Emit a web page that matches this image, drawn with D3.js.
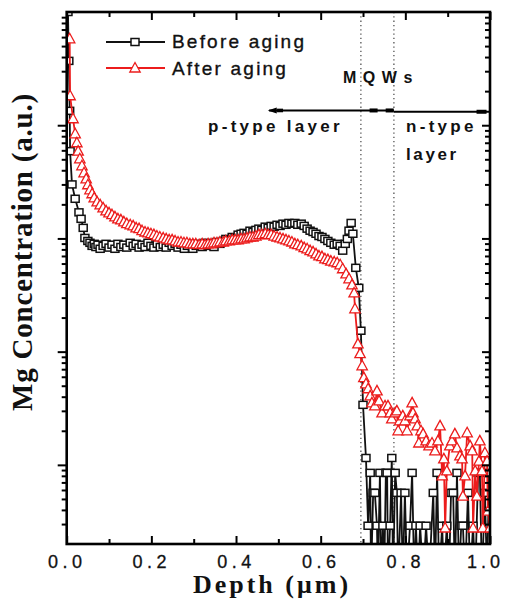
<!DOCTYPE html>
<html><head><meta charset="utf-8">
<script src="https://cdn.jsdelivr.net/npm/d3@7"></script>
<style>body{margin:0;background:#fff}</style>
</head><body>
<svg id="chart" width="505" height="599" xmlns="http://www.w3.org/2000/svg"></svg>
<script>
// ---------- data ----------
const seriesNames = ["Before aging", "After aging"];
const blackDepth = [0.003,0.005,0.007,0.008,0.0125,0.020,0.029,0.034,0.039,0.043,0.050,0.055,0.060,0.065,0.069,0.074,0.079,0.086,0.093,0.100,0.107,0.114,0.121,0.128,0.135,0.142,0.150,0.157,0.164,0.171,0.178,0.185,0.192,0.199,0.206,0.214,0.221,0.228,0.235,0.242,0.249,0.256,0.263,0.270,0.278,0.285,0.291,0.298,0.306,0.313,0.320,0.327,0.334,0.341,0.348,0.355,0.362,0.370,0.376,0.384,0.391,0.398,0.405,0.412,0.419,0.426,0.433,0.440,0.447,0.454,0.461,0.469,0.476,0.483,0.490,0.497,0.504,0.511,0.518,0.525,0.532,0.539,0.546,0.554,0.561,0.568,0.575,0.582,0.589,0.596,0.603,0.610,0.617,0.624,0.632,0.639,0.646,0.652,0.658,0.663,0.667,0.672,0.676,0.683,0.690,0.695,0.700,0.707,
  0.712,0.717,0.719,0.724,0.728,0.733,0.735,0.740,0.743,0.747,0.750,0.754,0.757,0.759,0.764,0.768,0.771,0.776,0.780,0.783,0.790,0.794,0.799,0.804,0.811,0.816,0.821,0.825,0.830,0.835,0.842,0.849,0.856,0.866,0.870,0.875,0.880,0.887,0.891,0.898,0.903,0.908,0.913,0.917,0.922,0.927,0.932,0.936,0.941,0.948,0.953,0.960,0.965,0.972,0.976,0.981,0.988,0.993,0.998];
const blackConc = [1e20,3.7e19,1.34e19,5.9e18,3.0e18,2.24e18,1.7e18,1.49e18,1.24e18,1.01e18,9.5e17,9.15e17,8.6e17,8.96e17,8.4e17,8.8e17,8.1e17,8.6e17,8.96e17,8.3e17,8.8e17,8.1e17,8.96e17,8.4e17,8.8e17,8.3e17,9.15e17,8.6e17,8.96e17,8.3e17,8.8e17,8.4e17,9.15e17,8.6e17,8.3e17,8.96e17,8.4e17,8.8e17,8.3e17,9.15e17,8.6e17,8.96e17,8.3e17,8.8e17,8.1e17,8.6e17,8.96e17,8.1e17,8.6e17,8.96e17,8.4e17,9.15e17,8.6e17,8.96e17,8.4e17,9.3e17,8.96e17,9.5e17,9.9e17,9.7e17,1.03e18,1.01e18,1.08e18,1.10e18,1.12e18,1.10e18,1.17e18,1.14e18,1.19e18,1.22e18,1.19e18,1.27e18,1.24e18,1.29e18,1.27e18,1.32e18,1.29e18,1.35e18,1.32e18,1.37e18,1.35e18,1.37e18,1.32e18,1.35e18,1.29e18,1.22e18,1.17e18,1.14e18,1.10e18,1.05e18,1.03e18,9.9e17,9.5e17,9.15e17,8.8e17,8.96e17,8.6e17,7.8e17,8.96e17,9.9e17,1.17e18,1.37e18,1.10e18,5.5e17,3.66e17,1.53e17,3.39e16,1.15e16,
  2.9e15,8.5e15,1e15,5.66e15,5.66e15,2.9e15,1e15,8.5e15,1e15,2.9e15,1e15,8.5e15,8.5e15,1e15,2.9e15,1.15e16,1e15,8.5e15,5.66e15,1e15,5.66e15,1e15,5.66e15,1e15,2.9e15,8.5e15,1e15,2.9e15,1e15,2.9e15,1e15,2.9e15,1e15,5.66e15,1e15,8.5e15,1e15,2.9e15,1e15,2.9e15,1e15,5.66e15,5.66e15,1e15,8.5e15,1e15,2.9e15,2.9e15,1e15,5.66e15,1e15,2.9e15,1e15,8.5e15,8.5e15,1e15,5.66e15,1e15,8.5e15];
const redDepth = [0.007,0.008,0.015,0.020,0.024,0.027,0.031,0.036,0.041,0.046,0.050,0.055,0.060,0.065,0.072,0.079,0.086,0.093,0.100,0.107,0.114,0.121,0.128,0.135,0.142,0.150,0.157,0.164,0.171,0.178,0.185,0.192,0.199,0.206,0.213,0.220,0.228,0.235,0.242,0.249,0.256,0.263,0.270,0.277,0.284,0.291,0.298,0.305,0.313,0.320,0.327,0.334,0.341,0.348,0.355,0.362,0.370,0.376,0.384,0.391,0.398,0.405,0.412,0.419,0.426,0.433,0.440,0.447,0.454,0.461,0.469,0.476,0.483,0.490,0.497,0.504,0.511,0.518,0.525,0.532,0.539,0.546,0.554,0.561,0.568,0.575,0.582,0.589,0.596,0.603,0.610,0.617,0.624,0.632,0.639,0.646,0.652,0.660,0.667,0.674,0.679,
  0.681,0.688,0.693,0.698,0.702,0.707,0.712,0.717,0.721,0.728,0.733,0.738,0.745,0.752,0.759,0.764,0.768,0.776,0.780,0.783,0.787,0.794,0.799,0.804,0.811,0.816,0.818,0.823,0.828,0.832,0.837,0.842,0.849,0.856,0.863,0.870,0.877,0.882,0.887,0.891,0.894,0.898,0.905,0.910,0.917,0.922,0.929,0.934,0.936,0.941,0.946,0.953,0.958,0.960,0.965,0.969,0.974,0.976,0.981,0.983,0.988,0.993,0.995,1.0];
const redConc = [5.8e19,1.82e19,1.14e19,8.4e18,7.0e18,5.9e18,5.05e18,4.38e18,3.8e18,3.36e18,2.98e18,2.69e18,2.48e18,2.28e18,2.1e18,1.98e18,1.86e18,1.75e18,1.68e18,1.62e18,1.55e18,1.49e18,1.46e18,1.40e18,1.35e18,1.32e18,1.29e18,1.24e18,1.22e18,1.17e18,1.14e18,1.12e18,1.10e18,1.08e18,1.05e18,1.03e18,1.01e18,9.9e17,9.7e17,9.7e17,9.5e17,9.3e17,9.3e17,9.15e17,9.15e17,8.96e17,8.96e17,8.96e17,8.8e17,8.96e17,8.8e17,8.96e17,8.96e17,9.15e17,9.15e17,9.3e17,9.3e17,9.5e17,9.5e17,9.7e17,9.7e17,9.7e17,9.9e17,9.9e17,1.01e18,1.03e18,1.03e18,1.05e18,1.08e18,1.08e18,1.10e18,1.08e18,1.08e18,1.05e18,1.03e18,1.01e18,9.9e17,9.7e17,9.5e17,9.3e17,8.96e17,8.8e17,8.6e17,8.3e17,8.1e17,7.8e17,7.6e17,7.3e17,7.0e17,6.9e17,6.6e17,6.5e17,6.3e17,6.2e17,6.1e17,5.85e17,5.4e17,4.86e17,4.4e17,3.89e17,3.3e17,
  2.39e17,1.17e17,9.6e16,7.5e16,5.9e16,5.2e16,4.7e16,4.07e16,3.53e16,3.32e16,4.5e16,3.67e16,2.88e16,3.32e16,3.32e16,2.88e16,2.55e16,2.88e16,3.0e16,2.0e16,2.45e16,2.71e16,2.45e16,2.0e16,2.71e16,3.53e16,2.88e16,2.55e16,2.21e16,1.56e16,2.0e16,1.88e16,1.63e16,1.47e16,1.56e16,1.33e16,1.63e16,2.21e16,8.0e15,1.13e16,2.77e15,8.85e15,1.47e16,1.63e16,1.88e16,1.41e16,1.2e16,1.13e16,5.3e15,8.0e15,1.92e16,1.47e16,1.33e16,2.77e15,8.85e15,5.3e15,1.08e16,1.63e16,8.85e15,2.77e15,1.28e16,1.08e16,3.9e15,2.77e15];

const xTicks = [0, 0.2, 0.4, 0.6, 0.8, 1.0];
const xTickLabels = ["0.0", "0.2", "0.4", "0.6", "0.8", "1.0"];
const xMinorTicks = [0.1, 0.3, 0.5, 0.7, 0.9];
const yDomain = [2e15, 1e20];
const mqwBounds = [0.695, 0.773];
const regionLabels = ["MQWs", "p-type layer", "n-type", "layer"];
const xTitle = "Depth (\u03bcm)";
const yTitle = "Mg Concentration (a.u.)";

// ---------- chart ----------
const svg = d3.select("#chart");
const L = 66.7, R = 490, T = 12, B = 544;
const x = d3.scaleLinear().domain([0, 1]).range([L, R]);
const y = d3.scaleLog().domain(yDomain).range([B, T]);

const yMajor = [1e16, 1e17, 1e18, 1e19];
const yMinor = [];
for (let d = 15; d <= 19; d++) for (let m = 2; m <= 9; m++) {
  const v = m * Math.pow(10, d);
  if (v > yDomain[0] && v < yDomain[1]) yMinor.push(v);
}

const SANS = "'Liberation Sans', Arial, Helvetica, sans-serif";
const SERIF = "'Liberation Serif', 'Times New Roman', serif";

function styleAxis(g) {
  g.select(".domain").remove();
  g.selectAll(".tick line").attr("stroke", "#000").attr("stroke-width", 2);
}

// clip
svg.append("defs").append("clipPath").attr("id", "clip")
  .append("rect").attr("x", L).attr("y", T).attr("width", R - L).attr("height", B - T);

// dotted MQW boundaries
svg.append("g").selectAll("line").data(mqwBounds).join("line")
  .attr("x1", d => x(d)).attr("x2", d => x(d)).attr("y1", T).attr("y2", B)
  .attr("stroke", "#444").attr("stroke-width", 1.2).attr("stroke-dasharray", "1.3,3");

// series
const black = blackDepth.map((d, i) => ({ depth: d, conc: blackConc[i] }));
const red = redDepth.map((d, i) => ({ depth: d, conc: redConc[i] }));
const line = d3.line().x(d => x(d.depth)).y(d => y(d.conc));
const plot = svg.append("g").attr("clip-path", "url(#clip)");

const BLACK = "#111", RED = "#ec1c1c";
const sq = (sel) => sel.append("rect").attr("x", -4).attr("y", -3.5).attr("width", 8).attr("height", 7)
  .attr("fill", "#fff").attr("stroke", BLACK).attr("stroke-width", 1.5);
const triPath = "M0,-5.5L5.2,4L-5.2,4Z";

plot.append("path").datum(black).attr("d", line).attr("fill", "none")
  .attr("stroke", BLACK).attr("stroke-width", 1.8);
plot.append("g").selectAll("g").data(black).join("g")
  .attr("transform", d => `translate(${x(d.depth)},${y(d.conc)})`)
  .call(sq);

plot.append("path").datum(red).attr("d", line).attr("fill", "none")
  .attr("stroke", RED).attr("stroke-width", 1.8);
plot.append("g").selectAll("path").data(red).join("path")
  .attr("transform", d => `translate(${x(d.depth)},${y(d.conc)})`)
  .attr("d", triPath).attr("fill", "#fff").attr("stroke", RED).attr("stroke-width", 1.3);

// axes
svg.append("g").attr("transform", `translate(${L},0)`)
  .call(d3.axisLeft(y).tickValues(yMajor).tickSize(9).tickFormat("")).call(styleAxis);
svg.append("g").attr("transform", `translate(${L},0)`)
  .call(d3.axisLeft(y).tickValues(yMinor).tickSize(5).tickFormat("")).call(styleAxis);
svg.append("g").attr("transform", `translate(${R},0)`)
  .call(d3.axisLeft(y).tickValues(yMajor).tickSize(8).tickFormat("")).call(styleAxis);
svg.append("g").attr("transform", `translate(${R},0)`)
  .call(d3.axisLeft(y).tickValues(yMinor).tickSize(5).tickFormat("")).call(styleAxis);
svg.append("g").attr("transform", `translate(0,${T})`)
  .call(d3.axisBottom(x).tickValues(xTicks).tickSize(8).tickFormat("")).call(styleAxis);
svg.append("g").attr("transform", `translate(0,${T})`)
  .call(d3.axisBottom(x).tickValues(xMinorTicks).tickSize(5).tickFormat("")).call(styleAxis);
svg.append("g").attr("transform", `translate(0,${B})`)
  .call(d3.axisBottom(x).tickValues(xMinorTicks).tickSizeInner(-5).tickSizeOuter(0).tickFormat("")).call(styleAxis);
const bx = svg.append("g").attr("transform", `translate(0,${B})`)
  .call(d3.axisBottom(x).tickValues(xTicks).tickSizeInner(-8).tickSizeOuter(0).tickPadding(11)
    .tickFormat((d, i) => xTickLabels[i]))
  .call(styleAxis);
bx.selectAll("text").attr("font-family", SANS).attr("font-size", 18)
  .attr("letter-spacing", "4.5px").attr("fill", "#111")
  .attr("stroke", "#111").attr("stroke-width", 0.3);
// last label sits against the right edge so it stays inside the page
bx.selectAll("text").filter((d, i) => i === xTicks.length - 1)
  .attr("text-anchor", "end").attr("x", 13.5).attr("letter-spacing", "4px");

// frame
svg.append("rect").attr("x", L).attr("y", T).attr("width", R - L).attr("height", B - T)
  .attr("fill", "none").attr("stroke", "#000").attr("stroke-width", 2.6);

// axis titles
svg.append("text").attr("transform", `translate(32,252) rotate(-90)`)
  .attr("text-anchor", "middle").attr("font-family", SERIF).attr("font-weight", "bold")
  .attr("font-size", 29).attr("letter-spacing", "0.8px").attr("fill", "#111").text(yTitle);
svg.append("text").attr("x", 272).attr("y", 593)
  .attr("text-anchor", "middle").attr("font-family", SERIF).attr("font-weight", "bold")
  .attr("font-size", 26).attr("letter-spacing", "3px").attr("fill", "#111").text(xTitle);

// legend
const leg = svg.append("g");
[[BLACK, 42, 48], [RED, 68, 75]].forEach(([c, ly, ty], i) => {
  leg.append("line").attr("x1", 106).attr("x2", 165).attr("y1", ly).attr("y2", ly)
    .attr("stroke", c).attr("stroke-width", 1.8);
  if (i === 0) {
    leg.append("g").attr("transform", `translate(135,${ly})`).call(sq);
  } else {
    leg.append("path").attr("transform", `translate(135,${ly})`).attr("d", triPath)
      .attr("fill", "#fff").attr("stroke", RED).attr("stroke-width", 1.3);
  }
  leg.append("text").attr("x", 172).attr("y", ty).attr("font-family", SANS)
    .attr("font-size", 19).attr("letter-spacing", "2.2px").attr("fill", "#111")
    .attr("stroke", "#111").attr("stroke-width", 0.35).text(seriesNames[i]);
});

// region annotation
const ann = svg.append("g");
const ay = y(1.35e19);
ann.append("line").attr("x1", x(0.478)).attr("x2", x(0.773)).attr("y1", ay).attr("y2", ay)
  .attr("stroke", "#000").attr("stroke-width", 2);
ann.append("line").attr("x1", x(0.773)).attr("x2", R).attr("y1", ay + 1.3).attr("y2", ay + 1.3)
  .attr("stroke", "#000").attr("stroke-width", 2);
ann.append("path").attr("d", `M${x(0.475)},${ay}l9,-3l0,6z`).attr("fill", "#000");
ann.append("rect").attr("x", x(0.478) + 8).attr("y", ay - 1.8).attr("width", 6).attr("height", 3.6).attr("fill", "#000");
[0.725, 0.763].forEach(v => ann.append("rect").attr("x", x(v) - 4).attr("y", ay - 2)
  .attr("width", 8).attr("height", 4).attr("fill", "#000"));
ann.append("rect").attr("x", x(0.98) - 5).attr("y", ay - 0.7).attr("width", 10).attr("height", 4).attr("fill", "#000");

const annText = (t, px, py, ls, fs) => ann.append("text").attr("x", px).attr("y", py)
  .attr("font-family", SANS).attr("font-weight", "bold").attr("font-size", fs)
  .attr("letter-spacing", ls).attr("fill", "#111").text(t);
annText(regionLabels[0], 343, 83, "6.5px", 16);
annText(regionLabels[1], 208, 132, "3.3px", 17);
annText(regionLabels[2], 406, 132, "3.3px", 17);
annText(regionLabels[3], 406, 160, "2.6px", 17);
</script>
</body></html>
